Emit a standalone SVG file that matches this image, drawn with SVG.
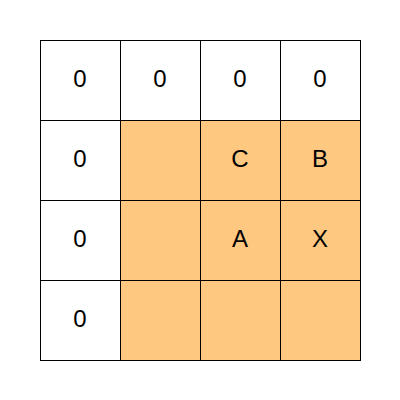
<svg xmlns="http://www.w3.org/2000/svg" width="400" height="400" viewBox="0 0 400 400">
<style>
.c{stroke:#000;stroke-width:1;fill:#fff}
.o{fill:#FFC880}
text{font-family:"Liberation Sans",Arial,sans-serif;font-size:24px;text-anchor:middle;fill:#000}
</style>
<rect width="400" height="400" fill="#fff"/>
<g id="grid">
<rect class="c" x="40.5" y="40.5" width="80" height="80"/>
<rect class="c" x="120.5" y="40.5" width="80" height="80"/>
<rect class="c" x="200.5" y="40.5" width="80" height="80"/>
<rect class="c" x="280.5" y="40.5" width="80" height="80"/>
<rect class="c" x="40.5" y="120.5" width="80" height="80"/>
<rect class="c o" x="120.5" y="120.5" width="80" height="80"/>
<rect class="c o" x="200.5" y="120.5" width="80" height="80"/>
<rect class="c o" x="280.5" y="120.5" width="80" height="80"/>
<rect class="c" x="40.5" y="200.5" width="80" height="80"/>
<rect class="c o" x="120.5" y="200.5" width="80" height="80"/>
<rect class="c o" x="200.5" y="200.5" width="80" height="80"/>
<rect class="c o" x="280.5" y="200.5" width="80" height="80"/>
<rect class="c" x="40.5" y="280.5" width="80" height="80"/>
<rect class="c o" x="120.5" y="280.5" width="80" height="80"/>
<rect class="c o" x="200.5" y="280.5" width="80" height="80"/>
<rect class="c o" x="280.5" y="280.5" width="80" height="80"/>
</g>
<g id="labels">
<text x="80" y="87">0</text>
<text x="160" y="87">0</text>
<text x="240" y="87">0</text>
<text x="320" y="87">0</text>
<text x="80" y="167">0</text>
<text x="240" y="167">C</text>
<text x="320" y="167">B</text>
<text x="80" y="247">0</text>
<text x="240" y="247">A</text>
<text x="320" y="247">X</text>
<text x="80" y="327">0</text>
</g>
</svg>
